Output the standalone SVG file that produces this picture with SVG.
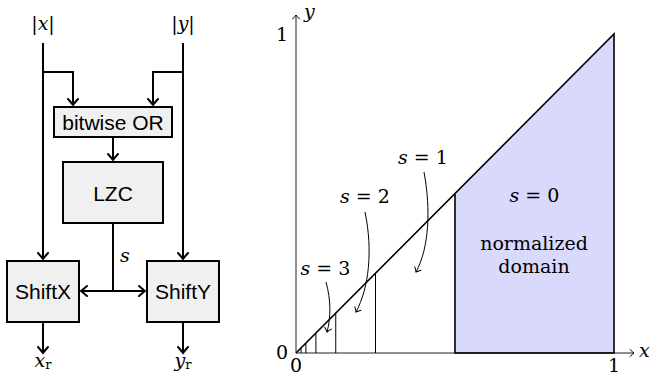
<svg xmlns="http://www.w3.org/2000/svg" width="652" height="376" viewBox="0 0 652 376">
<defs>
<style>
.box{fill:#f0f0f0;stroke:#000;stroke-width:2}
.lbl{font-family:'Liberation Sans',Arial,sans-serif;font-size:21px;text-anchor:middle;fill:#000}
.math{font-family:'DejaVu Serif','Liberation Serif',serif;font-size:19px;fill:#000}
.big{font-size:19px}
.mi{font-style:italic}
.wire{fill:none;stroke:#000;stroke-width:2}
.thin{fill:none;stroke:#000;stroke-width:1}
.axis{fill:none;stroke:#222;stroke-width:1}
</style>
<marker id="arr" viewBox="-8 -7 10 14" markerWidth="10" markerHeight="14" refX="0" refY="0" orient="auto" markerUnits="userSpaceOnUse">
<path d="M-6,-5 Q-2,-1.5 0,0 Q-2,1.5 -6,5" fill="none" stroke="#000" stroke-width="2" stroke-linecap="round"/>
</marker>
<marker id="arrs" viewBox="-6 -5 8 10" markerWidth="8" markerHeight="10" refX="0" refY="0" orient="auto" markerUnits="userSpaceOnUse">
<path d="M-4,-3.5 Q-1.5,-1 0,0 Q-1.5,1 -4,3.5" fill="none" stroke="#000" stroke-width="1" stroke-linecap="round"/>
</marker>
</defs>

<g id="connectors">
<path class="wire" d="M43,43 V259" marker-end="url(#arr)"/>
<path class="wire" d="M43,72 H73 V105" marker-end="url(#arr)"/>
<path class="wire" d="M183,43 V259" marker-end="url(#arr)"/>
<path class="wire" d="M183,72 H153 V105" marker-end="url(#arr)"/>
<path class="wire" d="M113,138 V160" marker-end="url(#arr)"/>
<path class="wire" d="M113,224 V291"/>
<path class="wire" d="M114,291 H81" marker-end="url(#arr)"/>
<path class="wire" d="M112,291 H145" marker-end="url(#arr)"/>
<path class="wire" d="M43,323 V353" marker-end="url(#arr)"/>
<path class="wire" d="M183,323 V353" marker-end="url(#arr)"/>
<text class="math mi" x="125" y="262" text-anchor="middle">s</text>
</g>

<g id="in-x"><text class="math" x="43" y="30" text-anchor="middle">|<tspan class="mi">x</tspan>|</text></g>
<g id="in-y"><text class="math" x="183" y="30" text-anchor="middle">|<tspan class="mi">y</tspan>|</text></g>

<g id="bitwise-or">
<rect class="box" x="54" y="107" width="118" height="30"/>
<text class="lbl" x="113" y="129.5">bitwise OR</text>
</g>
<g id="lzc">
<rect class="box" x="63" y="162" width="100" height="61"/>
<text class="lbl" x="113" y="200.5">LZC</text>
</g>
<g id="shiftx">
<rect class="box" x="7" y="261" width="72" height="61"/>
<text class="lbl" x="43" y="298.5">ShiftX</text>
</g>
<g id="shifty">
<rect class="box" x="147" y="261" width="72" height="61"/>
<text class="lbl" x="183" y="298.5">ShiftY</text>
</g>

<g id="out-x"><text class="math" x="43" y="367" text-anchor="middle"><tspan class="mi">x</tspan><tspan font-size="13" dy="2">r</tspan></text></g>
<g id="out-y"><text class="math" x="183" y="367" text-anchor="middle"><tspan class="mi">y</tspan><tspan font-size="13" dy="2">r</tspan></text></g>

<g id="chart">
<polygon points="455,353 455,193.5 614,34 614,353" fill="#d9d9fc" stroke="none"/>
<path class="axis" d="M296,353 H634" marker-end="url(#arrs)"/>
<path class="axis" d="M296,353 V15" marker-end="url(#arrs)"/>
<path d="M296,353 L614,34 V353 H455 V193.5" fill="none" stroke="#000" stroke-width="1.6"/>
<path class="thin" d="M375.5,353 V273.3 M335.75,353 V313.1 M315.9,353 V333 M305.9,353 V343.1 M301,353 V348.3"/>
<path class="thin" d="M424,172 C431,210 429,248 416,272" marker-end="url(#arrs)"/>
<path class="thin" d="M365,212 C373,250 369,288 356,312" marker-end="url(#arrs)"/>
<path class="thin" d="M326,282 C331,300 331,318 327,332" marker-end="url(#arrs)"/>
<text class="math mi" x="304" y="18">y</text>
<text class="math mi" x="639" y="357">x</text>
<text class="math" x="282" y="41" text-anchor="middle">1</text>
<text class="math" x="614" y="372" text-anchor="middle">1</text>
<text class="math" x="282" y="359" text-anchor="middle">0</text>
<text class="math" x="296" y="372" text-anchor="middle">0</text>
<text class="math" x="423" y="164" text-anchor="middle"><tspan class="mi">s</tspan> = 1</text>
<text class="math" x="365" y="203" text-anchor="middle"><tspan class="mi">s</tspan> = 2</text>
<text class="math" x="325.5" y="275" text-anchor="middle"><tspan class="mi">s</tspan> = 3</text>
<text class="math" x="534.5" y="202" text-anchor="middle"><tspan class="mi">s</tspan> = 0</text>
<text class="math big" x="534" y="250" text-anchor="middle">normalized</text>
<text class="math big" x="534" y="273" text-anchor="middle">domain</text>
</g>
</svg>
